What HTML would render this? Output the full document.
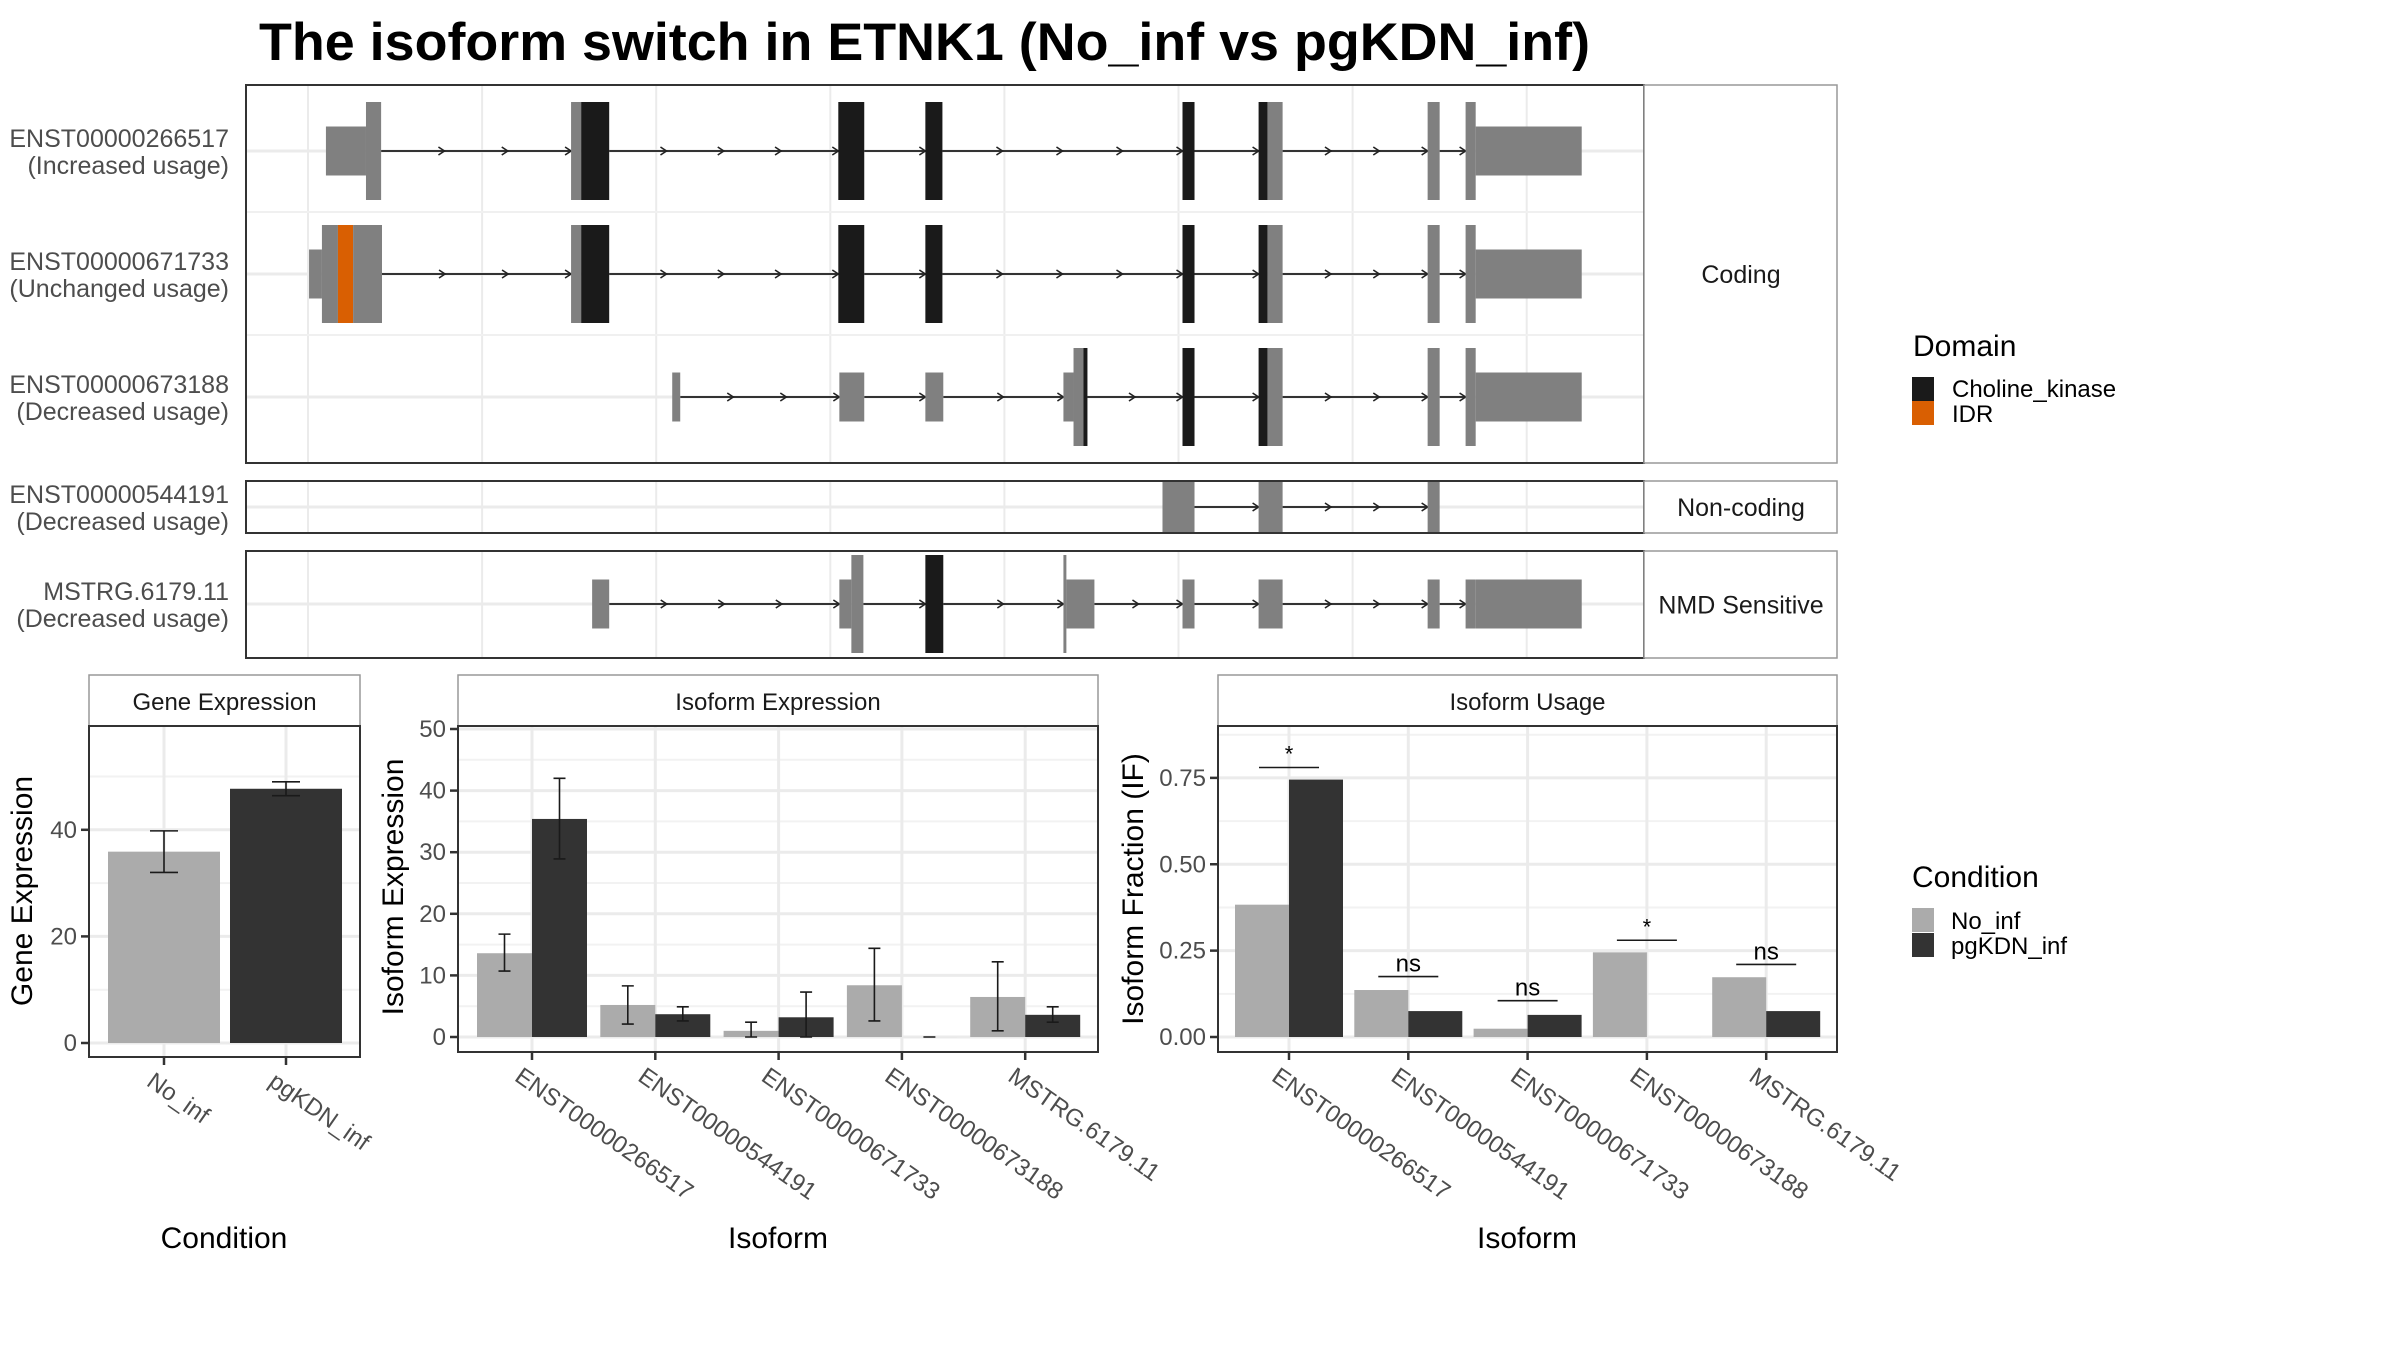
<!DOCTYPE html>
<html><head><meta charset="utf-8"><title>ETNK1 isoform switch</title>
<style>
html,body{margin:0;padding:0;background:#fff;}
svg{display:block;font-family:"Liberation Sans",Arial,sans-serif;}
</style></head>
<body>
<svg id="fig" width="2400" height="1350" viewBox="0 0 2400 1350" xmlns="http://www.w3.org/2000/svg">
<rect x="0" y="0" width="2400" height="1350" fill="#fff"/>
<text x="259" y="60" font-size="53" font-weight="bold" fill="#000" textLength="1331" lengthAdjust="spacingAndGlyphs">The isoform switch in ETNK1 (No_inf vs pgKDN_inf)</text>
<g id="topgroup"></g>
<g id="bottomgroup"></g>
</svg>
<script>
// ---------- data ----------
const transcriptIds = ["ENST00000266517","ENST00000671733","ENST00000673188","ENST00000544191","MSTRG.6179.11"];
const transcriptNotes = ["(Increased usage)","(Unchanged usage)","(Decreased usage)","(Decreased usage)","(Decreased usage)"];
// exons: [start, end, size s/t, fill g/k/o] in genomic units
const exons0 = [[1.03,3.33,"s","g"],[3.33,4.20,"t","g"],[15.11,15.69,"t","g"],[15.69,17.30,"t","k"],[30.46,31.95,"t","k"],[35.46,36.44,"t","k"],[50.23,50.92,"t","k"],[54.60,55.11,"t","k"],[55.11,55.98,"t","g"],[64.31,65.00,"t","g"],[66.49,67.07,"t","g"],[67.07,73.16,"s","g"]];
const exons1 = [[0.06,0.80,"s","g"],[0.80,1.72,"t","g"],[1.72,2.59,"t","o"],[2.59,4.25,"t","g"],[15.11,15.69,"t","g"],[15.69,17.30,"t","k"],[30.46,31.95,"t","k"],[35.46,36.44,"t","k"],[50.23,50.92,"t","k"],[54.60,55.11,"t","k"],[55.11,55.98,"t","g"],[64.31,65.00,"t","g"],[66.49,67.07,"t","g"],[67.07,73.16,"s","g"]];
const exons2 = [[20.92,21.38,"s","g"],[30.52,31.95,"s","g"],[35.46,36.49,"s","g"],[43.39,43.97,"s","g"],[43.97,44.54,"t","g"],[44.54,44.77,"t","k"],[50.23,50.92,"t","k"],[54.60,55.11,"t","k"],[55.11,55.98,"t","g"],[64.31,65.00,"t","g"],[66.49,67.07,"t","g"],[67.07,73.16,"s","g"]];
const exons3 = [[49.08,50.92,"f","g"],[54.60,55.98,"f","g"],[64.31,65.00,"f","g"]];
const exons4 = [[16.32,17.30,"s","g"],[30.52,31.21,"s","g"],[31.21,31.90,"t","g"],[35.46,36.49,"t","k"],[43.39,43.56,"t","g"],[43.56,45.17,"s","g"],[50.23,50.92,"s","g"],[54.60,55.98,"s","g"],[64.31,65.00,"s","g"],[66.49,67.07,"s","g"],[67.07,73.16,"s","g"]];
const exonSets = [exons0,exons1,exons2,exons3,exons4];
const gridGenomic = [0,10,20,30,40,50,60,70];

const conditions = ["No_inf","pgKDN_inf"];
const geneValues = [35.9,47.7];
const geneErrLow = [32.0,46.4];
const geneErrHigh = [39.8,49.0];
const geneTicks = [0,20,40];

const isoforms = ["ENST00000266517","ENST00000544191","ENST00000671733","ENST00000673188","MSTRG.6179.11"];
const isoExprNo = [13.6,5.2,1.0,8.4,6.5];
const isoExprPg = [35.4,3.7,3.2,0.0,3.6];
const isoExprNoLow = [10.7,2.1,0.0,2.6,1.0];
const isoExprNoHigh = [16.7,8.3,2.4,14.4,12.2];
const isoExprPgLow = [28.9,2.6,0.0,0.0,2.4];
const isoExprPgHigh = [42.0,4.9,7.3,0.0,4.9];
const isoExprTicks = [0,10,20,30,40,50];

const usageNo = [0.383,0.136,0.024,0.245,0.173];
const usagePg = [0.745,0.075,0.064,0.0,0.075];
const usageSig = ["*","ns","ns","*","ns"];
const usageSigY = [0.78,0.175,0.105,0.28,0.21];
const usageTicks = [0,0.25,0.5,0.75];
const usageTickLabels = ["0.00","0.25","0.50","0.75"];

// ---------- helpers ----------
const NS="http://www.w3.org/2000/svg";
function el(parent,tag,attrs,text){const e=document.createElementNS(NS,tag);for(const k in attrs)e.setAttribute(k,attrs[k]);if(text!==undefined)e.textContent=text;parent.appendChild(e);return e;}
const topG=document.getElementById('topgroup');
const botG=document.getElementById('bottomgroup');

// ---------- transcript panels ----------
const gx=p=>308+17.41*p;
const panels=[{y0:85,y1:463,rows:[0,1,2],centers:[151,274,397],label:"Coding",name:"coding"},
              {y0:481,y1:533,rows:[3],centers:[507],label:"Non-coding",name:"non-coding"},
              {y0:551,y1:658,rows:[4],centers:[604],label:"NMD Sensitive",name:"nmd-sensitive"}];
const fillMap={g:"#808080",k:"#1a1a1a",o:"#d95f02"};
const halfMap={s:24.5,t:49,f:25};
panels.forEach(pn=>{
  const g=el(topG,'g',{});
  
  
  el(g,'rect',{x:246,y:pn.y0,width:1398,height:pn.y1-pn.y0,fill:'#fff'});
  gridGenomic.forEach(v=>{const l=el(g,'line',{x1:gx(v),x2:gx(v),y1:pn.y0,y2:pn.y1,stroke:'#ebebeb','stroke-width':2});
    });
  pn.centers.forEach(c=>el(g,'line',{x1:246,x2:1644,y1:c,y2:c,stroke:'#ebebeb','stroke-width':3}));
  if(pn.rows.length>1){el(g,'line',{x1:246,x2:1644,y1:212,y2:212,stroke:'#f0f0f0','stroke-width':2});el(g,'line',{x1:246,x2:1644,y1:335,y2:335,stroke:'#f0f0f0','stroke-width':2});}
  pn.rows.forEach((ri,k)=>{
    const cy=pn.centers[k];const ex=exonSets[ri];
    const tg=el(g,'g',{});
    
    
    for(let i=0;i<ex.length-1;i++){
      const a=gx(ex[i][1]),b=gx(ex[i+1][0]);
      if(b-a<2)continue;
      el(tg,'line',{x1:a,x2:b,y1:cy,y2:cy,stroke:'#333','stroke-width':2});
      const n=Math.max(1,Math.round((b-a)/57));
      for(let j=1;j<=n;j++){const ax=a+(b-a)*j/n;
        const ar=el(tg,'path',{d:`M${ax-6},${cy-4} L${ax},${cy} L${ax-6},${cy+4}`,fill:'none',stroke:'#222','stroke-width':1.6});
        }
    }
    ex.forEach(e=>{const h=halfMap[e[2]];
      const r=el(tg,'rect',{x:gx(e[0]),y:cy-h,width:gx(e[1])-gx(e[0]),height:2*h,fill:fillMap[e[3]]});
      });
    const t1=el(topG,'text',{x:229,y:cy-4,'font-size':25,fill:'#4d4d4d','text-anchor':'end'},transcriptIds[ri]);
    
    const t2=el(topG,'text',{x:229,y:cy+23,'font-size':25,fill:'#4d4d4d','text-anchor':'end'},transcriptNotes[ri]);
    
  });
  el(g,'rect',{x:246,y:pn.y0,width:1398,height:pn.y1-pn.y0,fill:'none',stroke:'#333','stroke-width':2});
  const sr=el(g,'rect',{x:1644,y:pn.y0,width:193,height:pn.y1-pn.y0,fill:'#fff',stroke:'#999','stroke-width':1.5});
  
  const st=el(g,'text',{x:1741,y:(pn.y0+pn.y1)/2+9,'font-size':25,fill:'#1a1a1a','text-anchor':'middle'},pn.label);
  
});

// Domain legend
(function(){const g=el(topG,'g',{});
 el(g,'text',{x:1913,y:356,'font-size':30,fill:'#000'},'Domain');
 el(g,'rect',{x:1912,y:377,width:22,height:24,fill:'#1a1a1a'});
 el(g,'rect',{x:1912,y:401,width:22,height:24,fill:'#d95f02'});
 const a=el(g,'text',{x:1952,y:397,'font-size':24,fill:'#000'},'Choline_kinase');
 const b=el(g,'text',{x:1952,y:422,'font-size':24,fill:'#000'},'IDR');
})();

// ---------- bar panels ----------
function panelFrame(name,x0,x1,y0,y1,title){
  const g=el(botG,'g',{});
  el(g,'rect',{x:x0,y:675,width:x1-x0,height:51,fill:'#fff',stroke:'#999','stroke-width':1.5});
  const t=el(g,'text',{x:(x0+x1)/2,y:710,'font-size':24,fill:'#1a1a1a','text-anchor':'middle'},title);
  
  el(g,'rect',{x:x0,y:y0,width:x1-x0,height:y1-y0,fill:'#fff'});
  return g;
}
function hgrid(g,x0,x1,y){el(g,'line',{x1:x0,x2:x1,y1:y,y2:y,stroke:'#ebebeb','stroke-width':3});}
function hgridMinor(g,x0,x1,y){el(g,'line',{x1:x0,x2:x1,y1:y,y2:y,stroke:'#f2f2f2','stroke-width':2});}
function vgrid(g,x,y0,y1){el(g,'line',{x1:x,x2:x,y1:y0,y2:y1,stroke:'#ebebeb','stroke-width':3});}
function yTick(g,x0,y,label){el(g,'line',{x1:x0-8,x2:x0,y1:y,y2:y,stroke:'#333','stroke-width':2.5});
  const t=el(g,'text',{x:x0-12,y:y+8,'font-size':24,fill:'#4d4d4d','text-anchor':'end'},label);
  }
function xTick(g,x,y1,label){el(g,'line',{x1:x,x2:x,y1:y1,y2:y1+8,stroke:'#333','stroke-width':2.5});
  const t=el(g,'text',{x:0,y:0,'font-size':24,fill:'#4d4d4d','dominant-baseline':'hanging',transform:`translate(${x-9},${y1+14}) rotate(35)`},label);
  }
function drawBar(g,x,w,ytop,ybase,fill,name){const r=el(g,'rect',{x:x,y:Math.min(ytop,ybase),width:w,height:Math.max(Math.abs(ybase-ytop),0.01),fill:fill});
  return r;}
function errbar(g,x,ylo,yhi,hw){const p=el(g,'path',{d:`M${x-hw},${yhi}H${x+hw}M${x},${yhi}V${ylo}M${x-hw},${ylo}H${x+hw}`,stroke:'#1a1a1a','stroke-width':1.6,fill:'none'});
  }
function axisTitles(g,xc,xt,ycx,ycy,yt){
  const a=el(g,'text',{x:xc,y:1248,'font-size':30,fill:'#000','text-anchor':'middle'},xt);
  const b=el(g,'text',{x:0,y:0,'font-size':30,fill:'#000','text-anchor':'middle',transform:`translate(${ycx},${ycy}) rotate(-90)`},yt);}

// Gene expression
(function(){
  const X0=89,X1=360,Y0=726,Y1=1057;const y=v=>1043-v*5.33;const cx=[164,286];
  const g=panelFrame('gene-expression-panel',X0,X1,Y0,Y1,'Gene Expression');
  [10,30,50].forEach(v=>hgridMinor(g,X0,X1,y(v)));geneTicks.forEach(v=>hgrid(g,X0,X1,y(v)));
  cx.forEach(x=>vgrid(g,x,Y0,Y1));
  geneValues.forEach((v,i)=>{drawBar(g,cx[i]-56,112,y(v),y(0),i?'#333333':'#ababab','bar-gene-'+conditions[i]);
    errbar(g,cx[i],y(geneErrLow[i]),y(geneErrHigh[i]),14);});
  el(g,'rect',{x:X0,y:Y0,width:X1-X0,height:Y1-Y0,fill:'none',stroke:'#333','stroke-width':2});
  geneTicks.forEach(v=>yTick(g,X0,y(v),String(v)));
  conditions.forEach((c,i)=>xTick(g,cx[i],Y1,c));
  axisTitles(g,224,'Condition',32,891,'Gene Expression');
})();

// Isoform expression
(function(){
  const X0=458,X1=1098,Y0=726,Y1=1052;const y=v=>1037-v*6.16;const cx=i=>532+123.3*i;const w=55;
  const g=panelFrame('isoform-expression-panel',X0,X1,Y0,Y1,'Isoform Expression');
  [5,15,25,35,45].forEach(v=>hgridMinor(g,X0,X1,y(v)));isoExprTicks.forEach(v=>hgrid(g,X0,X1,y(v)));
  isoforms.forEach((n,i)=>vgrid(g,cx(i),Y0,Y1));
  isoforms.forEach((n,i)=>{
    drawBar(g,cx(i)-w,w,y(isoExprNo[i]),y(0),'#ababab','bar-expr-no-inf-'+n);
    drawBar(g,cx(i),w,y(isoExprPg[i]),y(0),'#333333','bar-expr-pgkdn-inf-'+n);
    errbar(g,cx(i)-w/2,y(isoExprNoLow[i]),y(isoExprNoHigh[i]),6);
    errbar(g,cx(i)+w/2,y(isoExprPgLow[i]),y(isoExprPgHigh[i]),6);
  });
  el(g,'rect',{x:X0,y:Y0,width:X1-X0,height:Y1-Y0,fill:'none',stroke:'#333','stroke-width':2});
  isoExprTicks.forEach(v=>yTick(g,X0,y(v),String(v)));
  isoforms.forEach((n,i)=>xTick(g,cx(i),Y1,n));
  axisTitles(g,778,'Isoform',403,887,'Isoform Expression');
})();

// Isoform usage
(function(){
  const X0=1218,X1=1837,Y0=726,Y1=1052;const y=v=>1037-v*345.5;const cx=i=>1289+119.3*i;const w=54;
  const g=panelFrame('isoform-usage-panel',X0,X1,Y0,Y1,'Isoform Usage');
  [0.125,0.375,0.625,0.875].forEach(v=>hgridMinor(g,X0,X1,y(v)));usageTicks.forEach(v=>hgrid(g,X0,X1,y(v)));
  isoforms.forEach((n,i)=>vgrid(g,cx(i),Y0,Y1));
  isoforms.forEach((n,i)=>{
    drawBar(g,cx(i)-w,w,y(usageNo[i]),y(0),'#ababab','bar-usage-no-inf-'+n);
    drawBar(g,cx(i),w,y(usagePg[i]),y(0),'#333333','bar-usage-pgkdn-inf-'+n);
    const sy=y(usageSigY[i]);
    const l=el(g,'line',{x1:cx(i)-30,x2:cx(i)+30,y1:sy,y2:sy,stroke:'#1a1a1a','stroke-width':1.6});
    
    const st=usageSig[i]==='*';
    const t=el(g,'text',{x:cx(i),y:st?sy-6:sy-5,'font-size':st?22:24,fill:'#000','text-anchor':'middle'},usageSig[i]);
    
  });
  el(g,'rect',{x:X0,y:Y0,width:X1-X0,height:Y1-Y0,fill:'none',stroke:'#333','stroke-width':2});
  usageTicks.forEach((v,i)=>yTick(g,X0,y(v),usageTickLabels[i]));
  isoforms.forEach((n,i)=>xTick(g,cx(i),Y1,n));
  axisTitles(g,1527,'Isoform',1143,889,'Isoform Fraction (IF)');
})();

// Condition legend
(function(){const g=el(botG,'g',{});
 el(g,'text',{x:1912,y:887,'font-size':30,fill:'#000'},'Condition');
 el(g,'rect',{x:1912,y:908,width:22,height:24,fill:'#ababab'});
 el(g,'rect',{x:1912,y:933,width:22,height:24,fill:'#333333'});
 const a=el(g,'text',{x:1951,y:929,'font-size':24,fill:'#000'},'No_inf');
 const b=el(g,'text',{x:1951,y:954,'font-size':24,fill:'#000'},'pgKDN_inf');
})();
</script>
</body></html>
